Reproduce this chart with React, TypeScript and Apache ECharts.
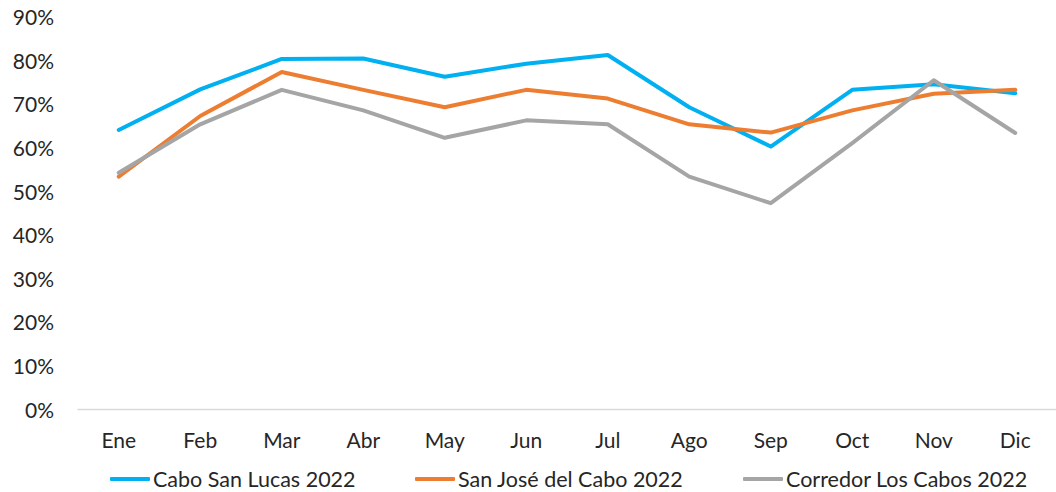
import React, { useEffect, useRef } from "react";
import * as echarts from "echarts";

const months = ["Ene", "Feb", "Mar", "Abr", "May", "Jun", "Jul", "Ago", "Sep", "Oct", "Nov", "Dic"];
const caboSanLucas = [64, 73.3, 80.3, 80.4, 76.2, 79.2, 81.2, 69.2, 60.2, 73.2, 74.5, 72.4];
const sanJose = [53.3, 67.2, 77.3, 73.2, 69.2, 73.2, 71.2, 65.3, 63.4, 68.5, 72.3, 73.2];
const corredor = [54.2, 65.3, 73.2, 68.5, 62.2, 66.2, 65.3, 53.3, 47.2, 61, 75.4, 63.3];
const seriesNames = ["Cabo San Lucas 2022", "San José del Cabo 2022", "Corredor Los Cabos 2022"];
const seriesColors = ["#00B0F0", "#ED7D31", "#A5A5A5"];
const yTicks = [0, 10, 20, 30, 40, 50, 60, 70, 80, 90];

const FONT = "Lato";
const TEXT = "#262626";

export default function App() {
  const ref = useRef<HTMLDivElement>(null);
  useEffect(() => {
    if (!ref.current) return;
    const chart = echarts.init(ref.current, null, { renderer: "svg" });
    const data = [caboSanLucas, sanJose, corredor];
    const legendLefts = [110, 415, 743];
    chart.setOption({
      animation: false,
      textStyle: { fontFamily: FONT },
      grid: { left: 78, top: 16.6, width: 990, height: 392.4 },
      legend: seriesNames.map((n, i) => ({
        data: [n],
        left: legendLefts[i],
        top: 468,
        padding: 0,
        icon: "roundRect",
        itemWidth: 40,
        itemHeight: 4,
        textStyle: { fontFamily: FONT, fontSize: 21.5, color: TEXT, padding: [0, 0, 0, -2] },
      })),
      xAxis: {
        type: "category",
        data: months,
        boundaryGap: true,
        axisLine: { show: true, lineStyle: { color: "#D9D9D9", width: 1.3 } },
        axisTick: { show: false },
        axisLabel: { fontFamily: FONT, fontSize: 21, color: TEXT, margin: 20 },
        splitLine: { show: false },
      },
      yAxis: {
        type: "value",
        min: yTicks[0],
        max: yTicks[yTicks.length - 1],
        interval: 10,
        axisLine: { show: false },
        axisTick: { show: false },
        splitLine: { show: false },
        axisLabel: { fontFamily: FONT, fontSize: 21, color: TEXT, margin: 24, formatter: "{value}%" },
      },
      series: data.map((d, i) => ({
        name: seriesNames[i],
        type: "line",
        data: d,
        symbol: "none",
        lineStyle: { color: seriesColors[i], width: 4, cap: "round", join: "round" },
        itemStyle: { color: seriesColors[i] },
      })),
    });
    return () => chart.dispose();
  }, []);
  return (
    <div
      ref={ref}
      style={{ position: "absolute", left: 0, top: 0, width: 1056, height: 492, background: "#fff" }}
    />
  );
}
